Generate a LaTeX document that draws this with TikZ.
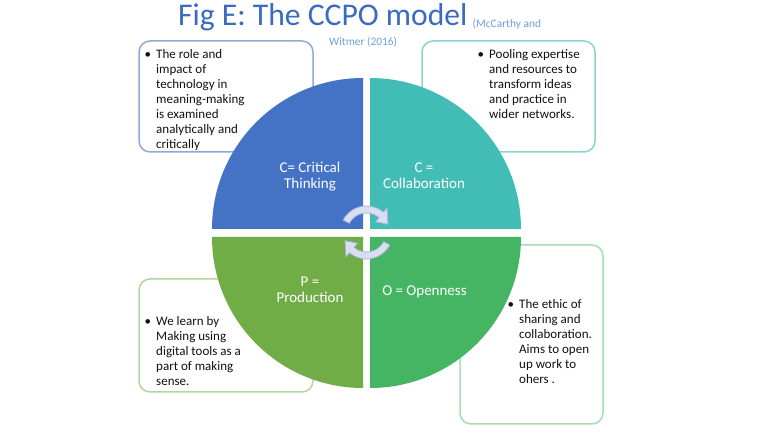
\documentclass[tikz,border=0pt]{standalone}
\usepackage{fontspec}
\setmainfont{Carlito}
\definecolor{qblue}{HTML}{4472C4}
\definecolor{qteal}{HTML}{42BDB5}
\definecolor{qgreen}{HTML}{70AD47}
\definecolor{qgreentwo}{HTML}{45B564}
\definecolor{tlborder}{HTML}{8EAADB}
\definecolor{trborder}{HTML}{86D6D0}
\definecolor{blborder}{HTML}{B4D69E}
\definecolor{brborder}{HTML}{A3DFB3}
\definecolor{titleblue}{HTML}{3A6BC0}
\definecolor{refblue}{HTML}{6E9FD8}
\definecolor{textgray}{HTML}{111111}
\definecolor{arrowfill}{HTML}{D9DEF0}
\definecolor{arrowline}{HTML}{A7B2DA}
\begin{document}
\begin{tikzpicture}[x=1pt,y=1pt,
  infobox/.style={line width=1.5pt, rounded corners=11pt, fill=white},
  boxtext/.style={anchor=north west, inner sep=0pt, align=left, text=textgray, font=\fontsize{13}{15}\selectfont},
  quadlabel/.style={anchor=north, inner sep=0pt, align=center, text=white, font=\fontsize{15}{16.5}\selectfont},
  cyclearrow/.style={fill=arrowfill, draw=arrowline, line width=0.8pt, line join=round}
]
\useasboundingbox (0,0) rectangle (769,433);
\fill[white] (0,0) rectangle (769,433);

% title
\node[anchor=base west, inner sep=0pt, text=titleblue, font=\fontsize{31.6}{38}\selectfont] (title) at (178,407.5) {Fig E: The CCPO model};
\node[anchor=base west, inner sep=0pt, text=refblue, font=\fontsize{11.4}{14}\selectfont] (ref1) at (472.5,405) {(McCarthy and};
\node[anchor=base west, inner sep=0pt, text=refblue, font=\fontsize{11.4}{14}\selectfont] (ref2) at (329,387) {Witmer (2016)};

% info boxes
\draw[infobox, draw=tlborder] (139,281) rectangle (313,392);
\draw[infobox, draw=trborder] (422,281) rectangle (595,392);
\draw[infobox, draw=blborder] (139,41) rectangle (313,154);
\draw[infobox, draw=brborder] (460,9) rectangle (603,188);

% quadrants
\fill[qblue] (363,204) -- (212,204) arc[start angle=180, end angle=90, radius=151] -- cycle;
\fill[qteal] (370,204) -- (521,204) arc[start angle=0, end angle=90, radius=151] -- cycle;
\fill[qgreen] (363,196) -- (212,196) arc[start angle=180, end angle=270, radius=151] -- cycle;
\fill[qgreentwo] (370,196) -- (521,196) arc[start angle=0, end angle=-90, radius=151] -- cycle;

% quadrant labels
\node[quadlabel] (lblC1) at (310,272.5) {\strut C= Critical\\Thinking};
\node[quadlabel] (lblC2) at (424,272.5) {\strut C =\\Collaboration};
\node[quadlabel] (lblP) at (310,158.5) {\strut P =\\Production};
\node[quadlabel] (lblO) at (424.5,149.5) {\strut O = Openness};

% box texts
\node[boxtext] (txtTL) at (156,385.5) {\strut\llap{•\hspace{5pt}}The role and\\impact of\\technology in\\meaning-making\\is examined\\analytically and\\critically};
\node[boxtext] (txtTR) at (489,385.5) {\strut\llap{•\hspace{5pt}}Pooling expertise\\and resources to\\transform ideas\\and practice in\\wider networks.};
\node[boxtext] (txtBL) at (156,118.5) {\strut\llap{•\hspace{5pt}}We learn by\\Making using\\digital tools as a\\part of making\\sense.};
\node[boxtext] (txtBR) at (519,135.5) {\strut\llap{•\hspace{5pt}}The ethic of\\sharing and\\collaboration.\\Aims to open\\up work to\\ohers .};

% circular arrows
\begin{scope}[shift={(366.5,200.5)}]
\filldraw[cyclearrow] (152:26.5) arc[start angle=152, end angle=50, radius=26.5] -- (50:32) -- (21:23) -- (50:14) -- (50:19.5) arc[start angle=50, end angle=152, radius=19.5] -- cycle;
\begin{scope}[rotate=180]
\filldraw[cyclearrow] (152:26.5) arc[start angle=152, end angle=50, radius=26.5] -- (50:32) -- (21:23) -- (50:14) -- (50:19.5) arc[start angle=50, end angle=152, radius=19.5] -- cycle;
\end{scope}
\end{scope}
\end{tikzpicture}
\end{document}
